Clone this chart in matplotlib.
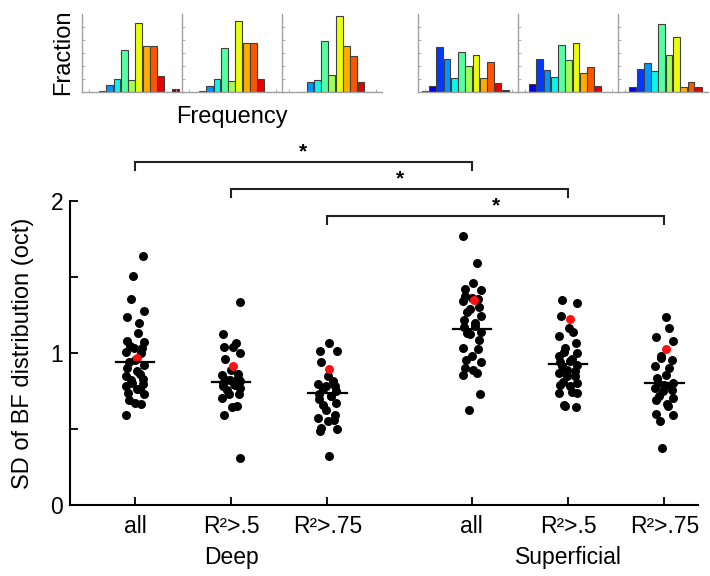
import numpy as np
import matplotlib
matplotlib.use('Agg')
import matplotlib.pyplot as plt

plt.rcParams['font.family'] = ['Liberation Sans', 'DejaVu Sans']

# ---- top histograms (fraction per frequency bin) ----
deep_hists = [
    [0.006, 0.029, 0.052, 0.162, 0.047, 0.266, 0.178, 0.178, 0.064, 0.0, 0.013],
    [0.006, 0.024, 0.050, 0.168, 0.043, 0.275, 0.187, 0.187, 0.050, 0.0, 0.0],
    [0.0, 0.038, 0.047, 0.196, 0.065, 0.291, 0.177, 0.140, 0.038, 0.0, 0.0],
]
deep_cidx = [1.5, 3, 4, 5, 6, 7, 8, 9, 10, 10.5, 11]
sup_hists = [
    [0.004, 0.023, 0.172, 0.127, 0.054, 0.153, 0.102, 0.144, 0.054, 0.116, 0.037, 0.009],
    [0.0, 0.031, 0.127, 0.085, 0.060, 0.183, 0.122, 0.190, 0.074, 0.098, 0.024, 0.0],
    [0.0, 0.019, 0.090, 0.111, 0.080, 0.261, 0.141, 0.210, 0.019, 0.039, 0.019, 0.0],
]
sup_cidx = list(range(12))

# ---- main scatter data: SD of BF distribution (oct) ----
labels = ['all', 'R²>.5', 'R²>.75', 'all', 'R²>.5', 'R²>.75']
positions = [1, 2, 3, 4.5, 5.5, 6.5]

deep_all = [1.635, 1.507, 1.358, 1.276, 1.236, 1.199, 1.133, 1.078, 1.074, 1.049,
            1.034, 1.030, 1.005, 1.001, 0.957, 0.940, 0.924, 0.902, 0.880, 0.860,
            0.847, 0.829, 0.820, 0.803, 0.799, 0.780, 0.766, 0.766, 0.740, 0.731,
            0.693, 0.671, 0.667, 0.589]
deep_r50 = [1.338, 1.127, 1.063, 1.041, 1.041, 0.997, 0.962, 0.887, 0.865, 0.852,
            0.836, 0.825, 0.820, 0.814, 0.805, 0.799, 0.790, 0.780, 0.770, 0.759,
            0.733, 0.733, 0.704, 0.649, 0.645, 0.589, 0.312]
deep_r75 = [1.063, 1.012, 1.012, 0.939, 0.847, 0.814, 0.799, 0.785, 0.781, 0.760,
            0.748, 0.733, 0.720, 0.715, 0.700, 0.671, 0.660, 0.627, 0.594, 0.572,
            0.561, 0.554, 0.506, 0.500, 0.484, 0.323]
sup_all = [1.771, 1.589, 1.463, 1.424, 1.415, 1.375, 1.364, 1.353, 1.342, 1.305,
           1.292, 1.270, 1.243, 1.217, 1.200, 1.177, 1.173, 1.137, 1.133, 1.122,
           1.085, 1.034, 1.028, 0.979, 0.957, 0.939, 0.902, 0.891, 0.869, 0.858,
           0.733, 0.627]
sup_r50 = [1.348, 1.331, 1.243, 1.166, 1.137, 1.111, 1.063, 1.034, 1.005, 1.000,
           0.979, 0.960, 0.950, 0.939, 0.924, 0.917, 0.891, 0.880, 0.869, 0.850,
           0.847, 0.807, 0.803, 0.792, 0.780, 0.741, 0.739, 0.737, 0.660, 0.649,
           0.645]
sup_r75 = [1.236, 1.166, 1.107, 1.078, 0.979, 0.968, 0.957, 0.917, 0.902, 0.852,
           0.836, 0.803, 0.800, 0.790, 0.781, 0.770, 0.759, 0.748, 0.720, 0.704,
           0.693, 0.667, 0.653, 0.601, 0.594, 0.550, 0.378]
groups = [deep_all, deep_r50, deep_r75, sup_all, sup_r50, sup_r75]
red_vals = [0.968, 0.917, 0.898, 1.348, 1.221, 1.028]
means = [0.94, 0.81, 0.74, 1.16, 0.93, 0.80]

# significance brackets: (from, to, height)
brackets = [(1, 4.5, 2.257), (2, 5.5, 2.079), (3, 6.5, 1.901)]

fig = plt.figure(figsize=(7.1, 5.76), dpi=100)
W, H = 710.0, 576.0

# ---- histograms ----
jet = plt.get_cmap('jet')
hist_left = [81.7, 181.7, 282.0, 417.7, 517.7, 618.0]
hist_w = [100, 100, 100, 100, 100, 90]
all_hists = deep_hists + sup_hists
for k, (hl, hw, h) in enumerate(zip(hist_left, hist_w, all_hists)):
    ax_h = fig.add_axes([hl / W, (H - 92.3) / H, hw / W, 78.3 / H])
    if k < 3:
        xs = 2.83 + np.arange(len(h))
        cols = jet(np.array(deep_cidx) / 11)
    else:
        xs = 1.0 + np.arange(len(h))
        cols = jet(np.array(sup_cidx) / 11)
    ax_h.bar(xs, h, width=0.92, color=cols, edgecolor='#404040', linewidth=0.8)
    ax_h.set_xlim(0, 13.7 * hw / 100)
    ax_h.set_ylim(0, 0.3)
    for s in ['top', 'right']:
        ax_h.spines[s].set_visible(False)
    for s in ['left', 'bottom']:
        ax_h.spines[s].set_color('#a0a0a0')
        ax_h.spines[s].set_linewidth(1.0)
    ax_h.set_yticks([0.05, 0.1, 0.15, 0.2, 0.25])
    ax_h.set_xticks([1.0, 12.9] if hw == 100 else [1.0])
    ax_h.tick_params(direction='in', length=2, width=0.6, colors='#a0a0a0',
                     labelleft=False, labelbottom=False)

fig.text(63 / W, (H - 52) / H, 'Fraction', rotation=90, ha='center', va='center',
         fontsize=17)
fig.text(232 / W, (H - 117) / H, 'Frequency', ha='center', va='center', fontsize=17)

# ---- main scatter ----
ax = fig.add_axes([70 / W, (H - 505) / H, 628 / W, 304 / H])
for pos, vals, red, m in zip(positions, groups, red_vals, means):
    vals = np.array(vals)
    n = len(vals)
    jit = 0.095 * np.sin(np.arange(n) * 2.39996 + pos)
    ax.scatter(pos + jit, vals, s=42, color='black', linewidths=0, zorder=2,
               clip_on=False)
    ax.scatter([pos + 0.02], [red], s=42, color='#ff1010', linewidths=0, zorder=3)
    ax.plot([pos - 0.2, pos + 0.2], [m, m], color='black', lw=1.6, zorder=4)

for x0, x1, yb in brackets:
    ax.plot([x0, x0, x1, x1], [yb - 0.05, yb, yb, yb - 0.05], color='#222222',
            lw=1.5, clip_on=False, solid_joinstyle='miter')
    ax.text((x0 + x1) / 2, yb + 0.005, '*', ha='center', va='bottom', fontsize=15,
            fontweight='bold')

ax.set_xlim(0.325, 6.85)
ax.set_ylim(0, 2)
ax.set_xticks(positions)
ax.set_xticklabels(labels)
ax.set_yticks([0, 0.5, 1, 1.5, 2])
ax.set_yticklabels(['0', '', '1', '', '2'])
for s in ['top', 'right']:
    ax.spines[s].set_visible(False)
for s in ['left', 'bottom']:
    ax.spines[s].set_linewidth(1.5)
ax.tick_params(direction='in', length=6, width=1.3, labelsize=16.5)
ax.tick_params(axis='x', pad=7)
ax.tick_params(axis='y', pad=5)
ax.set_ylabel('SD of BF distribution (oct)', fontsize=17, labelpad=12)

ax.text(2, -0.172, 'Deep', transform=ax.get_xaxis_transform(), ha='center',
        va='center', fontsize=16.5)
ax.text(5.5, -0.172, 'Superficial', transform=ax.get_xaxis_transform(),
        ha='center', va='center', fontsize=16.5)

fig.savefig('out.png', dpi=100)
